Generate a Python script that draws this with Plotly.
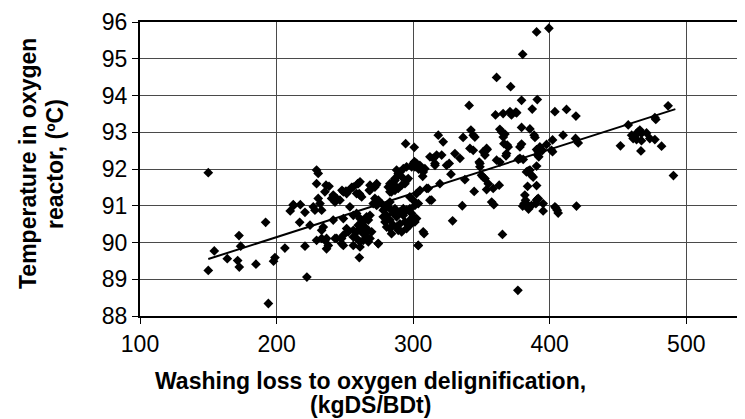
import plotly.graph_objects as go

# Washing loss to oxygen delignification (kgDS/BDt)
wash_loss = [
    150, 154.4, 150, 163.9, 172.5, 173.7, 171.5, 172.7, 184.9, 192, 198.8, 197.8, 194, 206.1,
    210, 212.5, 217.4, 216.9, 220.8, 222.2, 220.8, 212.2, 233,
    229.3, 230.5, 229.3, 236.2, 235.4, 241.5, 240.3, 244, 246.4, 242.8, 248.9, 251.3, 253.7,
    256.2, 259.8, 261.1, 258.6, 261.1, 262.3, 268.4, 273.3, 267.9, 272, 274.5, 276.9, 273.3,
    270.8, 230.5, 231.8, 233, 226.9, 228.1, 241.5, 234.2, 224.5, 248.9, 256.2, 258.6, 261.1,
    263.5, 265.9, 267.2, 268.4, 259.8, 261.1, 264.7, 267.2, 269.6, 263.5, 258.6, 256.2, 251.3,
    252.5, 248.9, 247.6, 256.2, 258.6, 261.1, 263.5, 265.9, 267.2, 268.4, 274.5, 256.2, 261.1,
    260.6, 248.9, 247.6, 244, 242.8, 236.6, 235.4, 233, 236.6, 237.9, 229.3, 253.7, 278.1,
    279.4, 280.6, 283, 281.8, 283, 285.5, 286.7, 289.1, 290.4, 292.8, 295.2, 284.2, 286.7,
    289.1, 291.6, 294, 295.2, 296.4, 298.9, 300.1,
    278.1, 280.6, 283, 285.5, 287.9, 290.3, 292.8, 295.2, 297.6, 298.9, 300.1, 297.6, 294,
    290.3, 287.9, 285.5, 283, 289.1, 291.6, 295.2, 297.6, 301.3, 302.5, 292.8, 286.7, 283,
    279.4, 280.6, 284.2, 297.6, 300.1, 302.5, 305, 303.8, 301.3, 307.4, 303.8, 312.3, 309.9,
    307.4, 308.6, 304.9, 302.5, 301.3, 312.3, 314.7, 316, 317.2, 287.9, 289.1, 291.6, 286.7,
    287.9, 285.5, 283, 238.4, 241.8, 247.9, 250.8, 255, 259.4, 260.5, 268.4, 272.8,
    294.5, 300.8, 318.4, 322, 301, 304, 307, 311, 313.5, 308, 303.7, 274.4, 272,
    319.6, 316, 320.9, 324.5, 326.4, 327.7, 328.9, 330.6, 334.3, 336.6, 336, 337.9, 341,
    342.3, 341.6, 344, 344, 345.2, 344.7, 348.9, 348.9, 348.4, 350.1, 351.3, 352.6, 355,
    353.8, 351.3, 353.8, 352.6, 354.2, 358.6, 363, 357.5, 359.1, 361.1, 363.5, 368.4,
    369.6, 368, 366.5, 368.9, 360.3, 365.9, 370.9, 372, 375.2, 361.1, 371.4, 363.5, 364.8,
    367.2, 366, 365.4, 375.8, 379.4, 380.2, 379.4, 385.5, 387.2, 388.6, 389.2, 390.9, 390.4,
    399.4, 378.2, 379.4, 378.2, 377, 380.6, 390.4, 383, 385.5, 386.7, 387.9, 384.3, 383.8,
    390.4, 381.8, 382.3, 381.3, 384.3, 386.7, 390.4, 391.6, 395.2, 389.9, 390.8, 395.2,
    384.5, 380.2, 376.7, 392.8, 397.7, 394.7, 391.6, 390.4, 392, 391.1, 402.1, 402.1, 401.3,
    403.8, 412.3, 419.2, 409.8, 418.9, 420.9, 403.8, 404.5, 405.5, 406.2, 419.6,
    451.8, 457.5, 460, 461.1, 462.4, 463.6, 464.8, 466, 467.2, 463.6, 467.2, 470.9, 473.3,
    477, 481.9, 466.8, 477, 477.7, 486.7, 490.6,
]

# Temperature in oxygen reactor (deg C)
temperature = [
    91.9, 89.77, 89.24, 89.56, 90.19, 89.9, 89.51, 89.33, 89.41, 90.55, 89.59, 89.49, 88.34, 89.85,
    90.86, 91.01, 91.03, 90.55, 89.9, 89.06, 90.82, 91.03, 90.33,
    91.97, 91.88, 91.6, 91.56, 91.38, 91.29, 91.2, 91.2, 91.15, 91.1, 91.38, 91.33, 91.44,
    91.51, 91.6, 91.65, 91.33, 91.29, 91.24, 91.56, 91.6, 91.42, 91.2, 91.15, 91.06, 91.01,
    91.06, 91.2, 91.06, 90.88, 90.97, 90.88, 90.61, 90.42, 90.47, 90.65, 90.74, 90.79, 90.65,
    90.56, 90.7, 90.61, 90.74, 90.47, 90.38, 90.42, 90.33, 90.29, 90.24, 90.29, 90.33, 90.38,
    90.29, 90.2, 90.11, 90.15, 90.11, 90.02, 90.06, 90.15, 90.02, 90.11, 89.97, 89.92, 89.88,
    89.59, 89.92, 89.97, 90.11, 90.11, 90.11, 90.06, 90.11, 89.83, 89.92, 90.06, 90.97, 90.88,
    90.92, 91.01, 91.1, 91.51, 91.6, 91.65, 91.74, 91.83, 91.92, 92.01, 92.06, 91.38, 91.42,
    91.47, 91.56, 91.6, 91.69, 91.74, 92.06, 92.15,
    90.7, 90.74, 90.61, 90.79, 90.7, 90.83, 90.92, 90.88, 90.92, 90.79, 90.7, 90.61, 90.56,
    90.51, 90.42, 90.47, 90.38, 90.33, 90.29, 90.38, 90.47, 90.56, 90.65, 90.74, 90.92, 90.92,
    90.56, 90.42, 90.24, 91.24, 91.15, 91.33, 91.42, 91.06, 91.01, 90.29, 89.92, 91.15, 91.47,
    91.92, 92.01, 92.1, 92.15, 92.06, 92.33, 92.29, 92.15, 92.38, 91.97, 91.88, 91.79, 91.69,
    91.51, 91.47, 91.38, 91.53, 91.26, 91.42, 91.4, 91.5, 91.6, 91.33, 91.42, 91.56,
    92.69, 92.59, 92.92, 92.74, 92.2, 92.0, 91.8, 91.47, 91.15, 90.24, 89.92, 89.97, 91.51,
    91.6, 92.1, 92.38, 92.1, 92.15, 91.86, 90.59, 92.42, 92.29, 92.86, 91.0, 91.71, 93.73,
    93.06, 92.56, 92.51, 92.92, 92.87, 91.39, 92.06, 92.15, 92.19, 91.83, 91.78, 91.74, 91.6,
    91.44, 92.47, 92.56, 92.38, 92.53, 91.47, 91.56, 91.1, 91.03, 92.24, 92.19, 92.42,
    92.6, 92.36, 92.69, 92.65, 93.47, 93.51, 93.56, 93.47, 93.55, 94.49, 94.24, 93.08, 93.01,
    92.95, 92.87, 90.22, 93.53, 93.87, 95.12, 93.13, 93.09, 93.63, 92.92, 92.86, 93.89, 95.73,
    95.83, 92.6, 92.68, 92.29, 92.26, 92.26, 92.08, 91.92, 91.97, 91.83, 91.78, 91.95, 91.53,
    91.55, 91.29, 91.15, 91.06, 91.01, 91.01, 91.15, 91.2, 91.06, 91.06, 91.17, 90.86,
    90.91, 90.99, 88.7, 92.6, 92.67, 92.51, 92.47, 92.53, 92.33, 92.38, 92.79, 92.47, 92.51,
    93.56, 93.62, 93.44, 92.92, 92.83, 92.71, 90.97, 90.94, 90.88, 90.8, 90.99,
    92.63, 93.2, 92.92, 92.83, 92.87, 92.97, 93.01, 93.06, 92.97, 92.8, 92.77, 92.98, 92.83,
    92.8, 92.62, 92.49, 93.4, 93.35, 93.72, 91.82,
]

# Linear trend line
trend_x = [150, 492]
trend_y = [89.55, 93.63]

x_ticks = [100, 200, 300, 400, 500]
y_ticks = [88, 89, 90, 91, 92, 93, 94, 95, 96]

x_title_lines = ["Washing loss to oxygen delignification,", "(kgDS/BDt)"]
y_title_lines = ["Temperature in oxygen", "reactor, (ºC)"]

fig = go.Figure()
fig.add_trace(go.Scatter(
    x=trend_x, y=trend_y, mode="lines",
    line=dict(color="black", width=2), showlegend=False, hoverinfo="skip",
))
fig.add_trace(go.Scatter(
    x=wash_loss, y=temperature, mode="markers",
    marker=dict(symbol="diamond", size=7.5, color="black", line=dict(width=0)),
    showlegend=False,
))

font_family = "Liberation Sans, Arial, sans-serif"

# The page body has an 8px margin, so the figure is drawn 8px smaller and
# all pixel positions below are given in window coordinates then shifted.
OFF = 8
W, H = 745 - OFF, 419 - OFF
PL, PR, PT, PB = 140 - OFF, 745 - OFF, 22 - OFF, 316 - OFF  # plot area


def px_x(p):
    return (p - OFF - PL) / (PR - PL)


def px_y(p):
    return (PB - (p - OFF)) / (PB - PT)


annotations = []
for txt, cy in zip(x_title_lines, [381, 405]):
    annotations.append(dict(
        text=f"<b>{txt}</b>", xref="paper", yref="paper", x=px_x(370), y=px_y(cy),
        xanchor="center", yanchor="middle", showarrow=False,
        font=dict(size=23, family=font_family)))
for txt, cx in zip(y_title_lines, [28, 55]):
    annotations.append(dict(
        text=f"<b>{txt}</b>", xref="paper", yref="paper", x=px_x(cx), y=px_y(164),
        xanchor="center", yanchor="middle", showarrow=False, textangle=-90,
        font=dict(size=23, family=font_family)))

fig.update_layout(
    width=W, height=H,
    margin=dict(l=PL, r=W - PR, t=PT, b=H - PB, pad=0),
    paper_bgcolor="white", plot_bgcolor="white",
    font=dict(family=font_family, color="black", size=23),
    xaxis=dict(
        range=[100, 543], tickvals=x_ticks, ticktext=[str(v) for v in x_ticks],
        showgrid=True, gridcolor="#4a4a4a", gridwidth=1,
        showline=True, linecolor="black", linewidth=2, mirror=True,
        ticks="outside", ticklen=6, tickcolor="black", tickwidth=1,
        tickfont=dict(size=23), zeroline=False,
    ),
    yaxis=dict(
        range=[88, 96], tickvals=y_ticks,
        showgrid=True, gridcolor="#4a4a4a", gridwidth=1,
        showline=True, linecolor="black", linewidth=2,
        ticks="outside", ticklen=6, tickcolor="black", tickwidth=1,
        tickfont=dict(size=23), zeroline=False,
    ),
    annotations=annotations,
)

fig.write_html("out.html")
